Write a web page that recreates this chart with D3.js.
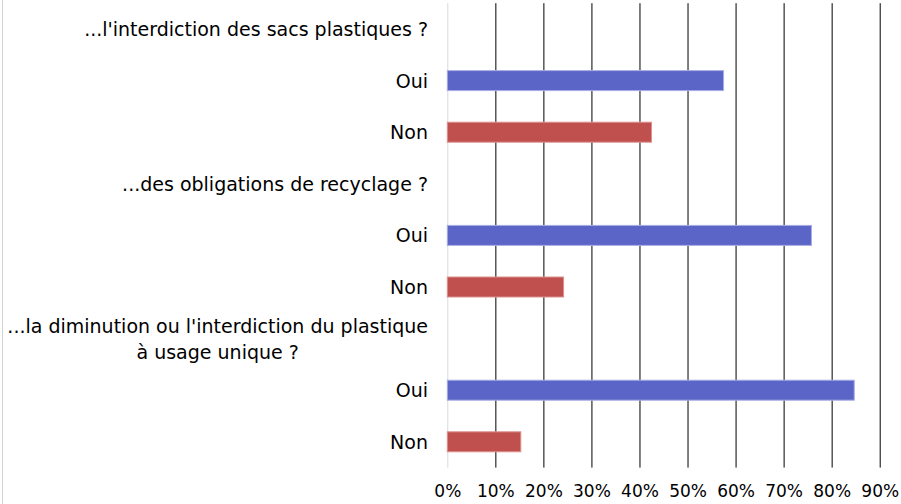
<!DOCTYPE html>
<html>
<head>
<meta charset="utf-8">
<script src="https://cdn.jsdelivr.net/npm/d3@7"></script>
<style>
  html, body { margin: 0; padding: 0; background: #fff; }
  svg { display: block; }
  text { font-family: "DejaVu Sans", sans-serif; fill: #000; }
</style>
</head>
<body>
<svg id="chart" width="901" height="504"></svg>
<script>
// Survey questions and share of answers
const questions = [
  "...l'interdiction des sacs plastiques ?",
  "...des obligations de recyclage ?",
  "...la diminution ou l'interdiction du plastique\nà usage unique ?"
];
const answers = ["Oui", "Non"];
const ouiValues = [0.575, 0.758, 0.847];
const nonValues = [0.425, 0.242, 0.153];
const tickValues = [0, 0.1, 0.2, 0.3, 0.4, 0.5, 0.6, 0.7, 0.8, 0.9];
const colors = { Oui: "#5B65C8", Non: "#C0504D" };
const strokes = { Oui: "#A9AEE3", Non: "#DB9391" };

// one row per question header, then one per answer
const rows = [];
questions.forEach((q, i) => {
  rows.push({ key: "q" + i, label: q, type: "question" });
  rows.push({ key: "oui" + i, label: answers[0], type: "Oui", value: ouiValues[i] });
  rows.push({ key: "non" + i, label: answers[1], type: "Non", value: nonValues[i] });
});

const svg = d3.select("#chart");
const plotTop = 3.2, plotBottom = 467.6;

const x = d3.scaleLinear().domain([0, 0.9]).range([447.3, 879.7]);
const y = d3.scaleBand().domain(rows.map(r => r.key)).range([plotTop, plotBottom]);

// frame edge on the left
svg.append("line")
  .attr("x1", 2.5).attr("x2", 2.5).attr("y1", 0).attr("y2", 504)
  .attr("stroke", "#d4d4d4").attr("stroke-width", 1);

// vertical gridlines and percentage labels
const axis = svg.append("g")
  .attr("transform", `translate(0,${plotBottom})`)
  .call(d3.axisBottom(x)
    .tickValues(tickValues)
    .tickSize(-(plotBottom - plotTop))
    .tickPadding(17)
    .tickFormat(d3.format(".0%")));
axis.select(".domain").remove();
axis.selectAll(".tick line")
  .attr("stroke", d => d === 0 ? "#d9d9d9" : "#000")
  .attr("stroke-width", 1);
axis.selectAll(".tick text")
  .attr("font-size", 17)
  .attr("font-family", "DejaVu Sans, sans-serif")
  .attr("fill", "#000");

// bars
const barH = 20;
svg.append("g").selectAll("rect")
  .data(rows.filter(r => r.type !== "question"))
  .join("rect")
  .attr("x", x(0))
  .attr("y", d => y(d.key) + y.bandwidth() / 2 - barH / 2)
  .attr("width", d => x(d.value) - x(0))
  .attr("height", barH)
  .attr("fill", d => colors[d.type])
  .attr("stroke", d => strokes[d.type])
  .attr("stroke-width", 1);

// category labels
const labelRight = 428;
const labels = svg.append("g");
rows.forEach(r => {
  const lines = r.label.split("\n");
  const cy = y(r.key) + y.bandwidth() / 2;
  const lineH = 26;
  const t = labels.append("text")
    .attr("font-size", 19)
    .attr("dominant-baseline", "central");
  lines.forEach((ln, i) => {
    t.append("tspan")
      .attr("y", cy + (i - (lines.length - 1) / 2) * lineH)
      .text(ln);
  });
  if (lines.length === 1) {
    t.attr("text-anchor", "end").selectAll("tspan").attr("x", labelRight);
  } else {
    // centre the lines within a block that is right-aligned
    const widths = t.selectAll("tspan").nodes().map(n => n.getComputedTextLength());
    const w = d3.max(widths);
    t.attr("text-anchor", "middle").selectAll("tspan").attr("x", labelRight - w / 2);
  }
});
</script>
</body>
</html>
